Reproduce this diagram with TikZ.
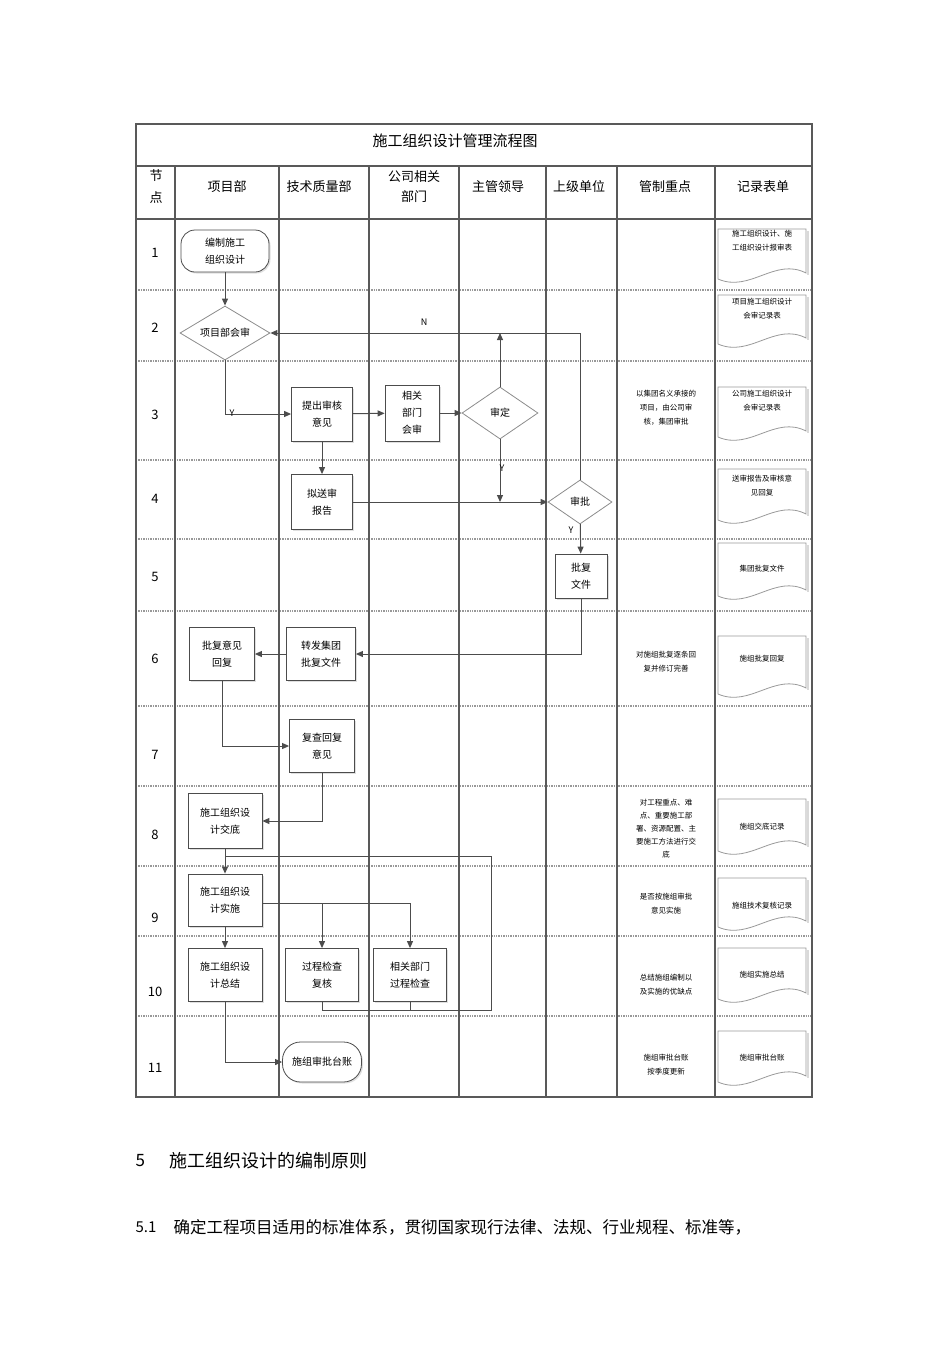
\documentclass[tikz,border=0pt]{standalone}
\usepackage{fontspec}
\setmainfont{Noto Sans CJK SC}
\usetikzlibrary{shapes.geometric,arrows.meta,shadows,calc}
\begin{document}
\begin{tikzpicture}[x=1pt,y=-1pt,
  grid/.style={draw=black!65,line width=1.1pt},
  sep/.style={draw=black!40,line width=1.4pt,densely dotted},
  box/.style={draw=black!70,line width=0.8pt,fill=white,drop shadow={shadow xshift=1.5pt,shadow yshift=-1.5pt,opacity=0.25},align=center,font=\fontsize{10}{17}\selectfont,inner sep=1pt},
  term/.style={box,rounded corners=14pt},
  dia/.style={diamond,draw=black!45,line width=0.8pt,fill=white,aspect=1.6,inner sep=0pt,font=\fontsize{10}{12}\selectfont},
  doc/.style={draw=none,minimum width=88pt,inner sep=0pt},
  small/.style={font=\fontsize{7.5}{14}\selectfont,align=center},
  hdr/.style={font=\fontsize{13}{22}\selectfont,align=center},
  arr/.style={draw=black!70,line width=1pt,-{Triangle[length=7pt,width=6pt]}},
  ln/.style={draw=black!70,line width=1pt}]
\useasboundingbox (0,0) rectangle (950,1345);
% table
\foreach \y in {290,361,460,539,611,706,786,866,936,1016} \draw[sep] (136,\y) -- (812,\y);
\foreach \x in {175,279,369,459,546,617,715} \draw[grid] (\x,166) -- (\x,1097);
\draw[grid] (136,166) -- (812,166);
\draw[grid] (136,219) -- (812,219);
\draw[grid] (136,124) rectangle (812,1097);
\node[font=\fontsize{15}{18}\selectfont] (title) at (455,141) {施工组织设计管理流程图};
\node[hdr] (h0) at (156,187) {节\\点};
\node[hdr] (h1) at (227,187) {项目部};
\node[hdr] (h2) at (319,187) {技术质量部};
\node[hdr,font=\fontsize{13}{20}\selectfont] (h3) at (414,187) {公司相关\\部门};
\node[hdr] (h4) at (498,187) {主管领导};
\node[hdr] (h5) at (579,187) {上级单位};
\node[hdr] (h6) at (665,187) {管制重点};
\node[hdr] (h7) at (763,187) {记录表单};
\foreach \n/\y in {1/253,2/328,3/415,4/499,5/577,6/659,7/755,8/835,9/918,10/992,11/1068}
  \node[font=\fontsize{13}{15}\selectfont] (r\n) at (155,\y) {\n};
% flow nodes
\node[term,minimum width=88pt,minimum height=42pt] (bz) at (225,251) {编制施工\\组织设计};
\node[dia,minimum width=90pt,minimum height=54pt] (hs) at (225,333) {项目部会审};
\node[box,minimum width=61pt,minimum height=54pt] (tc) at (322,414) {提出审核\\意见};
\node[box,minimum width=54pt,minimum height=56pt] (xg) at (412,413) {相关\\部门\\会审};
\node[dia,minimum width=76pt,minimum height=52pt] (sd) at (500,413) {审定};
\node[box,minimum width=61pt,minimum height=55pt] (ni) at (322,502) {拟送审\\报告};
\node[dia,minimum width=64pt,minimum height=44pt] (sp) at (580,502) {审批};
\node[box,minimum width=52pt,minimum height=44pt] (pf) at (581,576) {批复\\文件};
\node[box,minimum width=69pt,minimum height=53pt] (zf) at (321,654) {转发集团\\批复文件};
\node[box,minimum width=65pt,minimum height=53pt] (py) at (222,654) {批复意见\\回复};
\node[box,minimum width=65pt,minimum height=53pt] (fc) at (322,746) {复查回复\\意见};
\node[box,minimum width=74pt,minimum height=55pt] (jd) at (225,821) {施工组织设\\计交底};
\node[box,minimum width=74pt,minimum height=52pt] (ss) at (225,900) {施工组织设\\计实施};
\node[box,minimum width=74pt,minimum height=53pt] (zj) at (225,975) {施工组织设\\计总结};
\node[box,minimum width=73pt,minimum height=53pt] (gc) at (322,975) {过程检查\\复核};
\node[box,minimum width=73pt,minimum height=53pt] (xj) at (410,975) {相关部门\\过程检查};
\node[term,minimum width=79pt,minimum height=40pt,rounded corners=18pt] (tz) at (322,1062) {施组审批台账};
% connectors
\draw[arr] (bz) -- (hs);
\draw[arr] (hs.south) |- (tc.west);
\node[font=\fontsize{9}{10}\selectfont] (ly1) at (232,413) {Y};
\draw[arr] (tc) -- (xg);
\draw[arr] (xg) -- (sd);
\draw[arr] (sp.north) |- (hs.east);
\node[font=\fontsize{9}{10}\selectfont] (ln1) at (424,322) {N};
\draw[arr] (sd.north) -- (sd.north |- hs.east);
\draw[arr] (sd.south) -- (sd.south |- sp.west);
\node[font=\fontsize{9}{10}\selectfont] (ly2) at (502,468) {Y};
\draw[arr] (tc) -- (ni);
\draw[arr] (ni) -- (sp);
\draw[arr] (sp) -- (pf);
\node[font=\fontsize{9}{10}\selectfont] (ly3) at (571,530) {Y};
\draw[arr] (pf.south) |- (zf.east);
\draw[arr] (zf) -- (py);
\draw[arr] (py.south) |- (fc.west);
\draw[arr] (fc.south) |- (jd.east);
\draw[arr] (jd) -- (ss);
\coordinate (fb1) at (491,856);
\coordinate (fb2) at (491,1010);
\draw[ln] (jd.south |- fb1) -- (fb1) -- (fb2) -| (gc.south);
\draw[ln] (xj.south) -- (xj.south |- fb2);
\coordinate (sr) at (262,903);
\draw[ln] (sr) -- (sr -| xj);
\draw[arr] (sr -| gc) -- (gc.north);
\draw[arr] (sr -| xj) -- (xj.north);
\draw[arr] (ss) -- (zj);
\draw[arr] (zj.south) |- (tz.west);
% control texts
\node[small] (k3) at (666,408) {以集团名义承接的\\项目，由公司审\\核，集团审批};
\node[small] (k6) at (666,662) {对施组批复逐条回\\复并修订完善};
\node[small,font=\fontsize{7.5}{13}\selectfont] (k8) at (666,829) {对工程重点、难\\点、重要施工部\\署、资源配置、主\\要施工方法进行交\\底};
\node[small] (k9) at (666,904) {是否按施组审批\\意见实施};
\node[small] (k10) at (666,985) {总结施组编制以\\及实施的优缺点};
\node[small] (k11) at (666,1065) {施组审批台账\\按季度更新};
% documents
\foreach \n/\a/\b in {1/229/285,2/295/350,3/387/443,4/469/526,5/543/602,6/636/700,8/799/857,9/878/933,10/948/1005,11/1031/1088}{
  \coordinate (d\n a) at (718,\a);
  \coordinate (d\n b) at (806,\b);
  \draw[draw=black!40,line width=0.8pt] (718,\a) -- (806,\a) -- (806,\b-12)
    .. controls (775,\b-28) and (750,\b+8) .. (718,\b-6) -- cycle;
  \draw[draw=black!15,line width=1.2pt] (808,\a+2) -- (808,\b-10);
}
\node[small] (t1) at (762,241) {施工组织设计、施\\工组织设计报审表};
\node[small] (t2) at (762,309) {项目施工组织设计\\会审记录表};
\node[small] (t3) at (762,401) {公司施工组织设计\\会审记录表};
\node[small] (t4) at (762,486) {送审报告及审核意\\见回复};
\node[small] (t5) at (762,569) {集团批复文件};
\node[small] (t6) at (762,659) {施组批复回复};
\node[small] (t8) at (762,827) {施组交底记录};
\node[small] (t9) at (762,906) {施组技术复核记录};
\node[small] (t10) at (762,975) {施组实施总结};
\node[small] (t11) at (762,1058) {施组审批台账};
% text below
\node[anchor=west,font=\fontsize{17}{20}\selectfont] (s5) at (132,1161) {5};
\node[anchor=west,font=\fontsize{18}{20}\selectfont] (s5t) at (166,1161) {施工组织设计的编制原则};
\node[anchor=west,font=\fontsize{15}{18}\selectfont] (s51) at (132,1227) {5.1};
\node[anchor=west,font=\fontsize{16.5}{18}\selectfont] (s51t) at (170,1227) {确定工程项目适用的标准体系，贯彻国家现行法律、法规、行业规程、标准等，};
\end{tikzpicture}
\end{document}
